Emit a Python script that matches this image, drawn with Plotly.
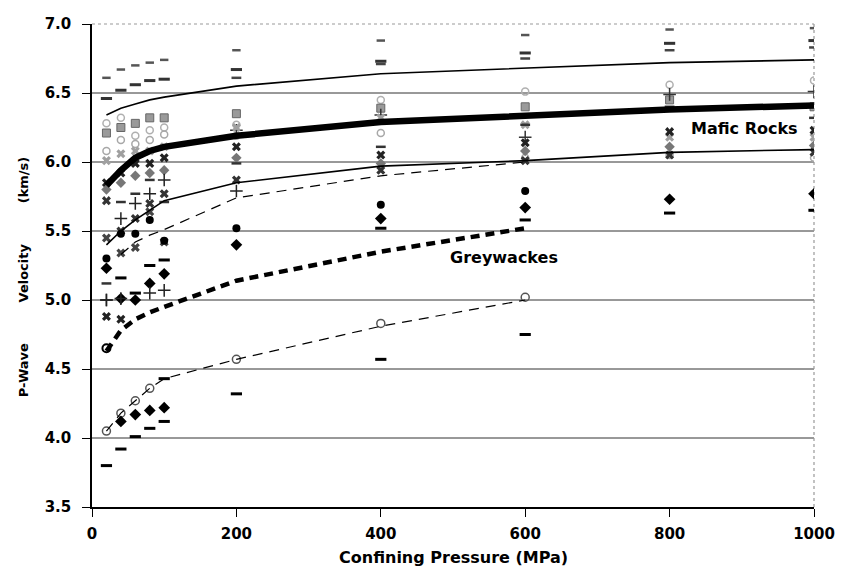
import plotly.graph_objects as go

# ---------------- data ----------------
pressure = [20, 40, 60, 80, 100, 200, 400, 600, 800, 1000]

# trend lines
mafic_upper = [6.34, 6.39, 6.42, 6.45, 6.47, 6.55, 6.64, 6.68, 6.72, 6.74]
mafic_mean = [5.83, 5.94, 6.03, 6.08, 6.11, 6.19, 6.29, 6.34, 6.38, 6.41]
mafic_lower = [5.40, 5.50, 5.58, 5.65, 5.72, 5.85, 5.97, 6.01, 6.07, 6.09]
mafic_dashed = [None, 5.33, 5.42, 5.47, 5.51, 5.74, 5.90, 6.00, None, None]
grey_mean = [4.63, 4.78, 4.86, 4.91, 4.95, 5.14, 5.35, 5.52, None, None]
grey_lower = [4.05, 4.18, 4.27, 4.36, 4.43, 4.57, 4.81, 5.00, None, None]

# mafic rock samples
m_dash_top = [6.61, 6.67, 6.70, 6.72, 6.74, 6.81, 6.88, 6.92, 6.96, 6.97]
m_dash_hi = [6.46, 6.52, 6.56, 6.59, 6.60, 6.67, 6.73, 6.79, 6.86, 6.88]
m_dash_mid = [None, None, None, None, None, 6.61, 6.71, 6.75, 6.81, 6.83]
m_star = [6.33, 6.40, 6.43, 6.46, 6.48, 6.56, 6.64, 6.68, 6.73, 6.75]
m_ocirc_hi = [6.28, 6.32, 6.19, 6.23, 6.25, 6.27, 6.45, 6.51, 6.56, 6.59]
m_square = [6.21, 6.25, 6.28, 6.32, 6.32, 6.35, 6.39, 6.40, 6.45, 6.40]
m_ocirc_lo = [6.08, 6.16, 6.13, 6.16, 6.20, 6.19, 6.21, 6.03, 6.05, 6.03]
m_plus_hi = [None, None, None, None, None, 6.23, 6.34, 6.18, 6.49, 6.51]
m_x_gray = [6.01, 6.06, 6.08, 6.08, 6.11, 6.25, 6.32, 6.27, 6.18, 6.18]
m_x_black = [5.85, 5.92, 5.99, 5.99, 6.03, 6.11, 6.05, 6.14, 6.22, 6.23]
m_diamond_gray = [5.80, 5.85, 5.90, 5.92, 5.94, 6.03, 5.99, 6.08, 6.11, 6.12]
m_x_low = [5.72, 5.50, 5.59, 5.70, 5.77, 5.87, 5.94, 6.01, 6.05, 6.07]
m_plus = [5.00, 5.59, 5.70, 5.77, 5.87, 5.79, None, None, None, None]
m_dash_lo = [5.12, 5.71, 5.77, 5.87, 5.71, 5.99, 6.11, 6.27, 6.40, 6.32]
m_x_lowest = [5.45, 5.34, 5.38, 5.64, 5.42, None, None, None, None, None]

# greywacke samples
g_circle = [5.30, 5.48, 5.48, 5.58, 5.43, 5.52, 5.69, 5.79, None, None]
g_diamond = [5.23, 5.01, 5.00, 5.12, 5.19, 5.40, 5.59, 5.67, 5.73, 5.77]
g_dash = [None, 5.16, 5.05, 5.25, 5.29, None, 5.52, 5.58, 5.63, 5.65]
g_plus = [5.00, 5.01, None, 5.05, 5.07, None, None, None, None, None]
g_x = [4.88, 4.86, None, None, None, None, None, None, None, None]
g_open = [4.65, None, None, None, None, None, None, None, None, None]
gl_open = [4.05, 4.18, 4.27, 4.36, None, 4.57, 4.83, 5.02, None, None]
gl_diamond = [None, 4.12, 4.17, 4.20, 4.22, None, None, None, None, None]
gl_dash = [3.80, 3.92, 4.01, 4.07, 4.12, 4.32, 4.57, 4.75, None, None]
gl_dash2 = [None, None, None, None, 4.43, None, None, None, None, None]

y_ticks = [3.5, 4.0, 4.5, 5.0, 5.5, 6.0, 6.5, 7.0]
y_tick_text = ["3.5", "4.0", "4.5", "5.0", "5.5", "6.0", "6.5", "7.0"]
x_ticks = [0, 200, 400, 600, 800, 1000]
grid_vals = [4.0, 4.5, 5.0, 5.5, 6.0, 6.5]

fig = go.Figure()


def add_line(y, width, dash="solid"):
    fig.add_trace(go.Scatter(x=pressure, y=y, mode="lines",
                             line=dict(color="black", width=width, dash=dash),
                             connectgaps=False, hoverinfo="skip"))


def add_markers(y, symbol, size, color, lw=0, lc=None):
    fig.add_trace(go.Scatter(
        x=pressure, y=y, mode="markers",
        marker=dict(symbol=symbol, size=size, color=color,
                    line=dict(width=lw, color=lc if lc else color))))


# markers (drawn first, lines on top)
add_markers(m_dash_top, "line-ew", 6, "#555", 2.5)
add_markers(m_dash_hi, "line-ew", 8, "#333", 3)
add_markers(m_dash_mid, "line-ew", 7, "#444", 2.5)
add_markers(m_ocirc_hi, "circle-open", 7, "#b0b0b0", 1.5)
add_markers(m_square, "square", 8, "#9a9a9a", 1, "#666")
add_markers(m_ocirc_lo, "circle-open", 7, "#a8a8a8", 1.5)
add_markers(m_plus_hi, "cross-thin", 9, "#333", 1.5)
add_markers(m_x_gray, "x", 8, "#a0a0a0")
add_markers(m_x_black, "x", 8, "#222")
add_markers(m_diamond_gray, "diamond", 8, "#777")
add_markers(m_x_low, "x", 8, "#333")
add_markers(m_plus, "cross-thin", 9, "#222", 1.5)
add_markers(m_dash_lo, "line-ew", 7, "#333", 2.5)
add_markers(m_x_lowest, "x", 8, "#444")

add_markers(g_circle, "circle", 8, "black")
add_markers(g_diamond, "diamond", 9, "black")
add_markers(g_dash, "line-ew", 8, "black", 3)
add_markers(g_plus, "cross-thin", 9, "#222", 1.5)
add_markers(g_x, "x", 8, "#222")
add_markers(g_open, "circle-open", 8, "black", 2)
add_markers(gl_open, "circle-open", 8, "#555", 1.5)
add_markers(gl_diamond, "diamond", 9, "black")
add_markers(gl_dash, "line-ew", 8, "black", 3)
add_markers(gl_dash2, "line-ew", 8, "black", 3)

# trend lines
add_line(mafic_upper, 1.6)
add_line(mafic_mean, 6.5)
add_line(mafic_lower, 1.6)
add_line(mafic_dashed, 1.2, "10px,7px")
add_line(grey_mean, 4.5, "9px,6px")
add_line(grey_lower, 1.2, "10px,7px")

# horizontal gridlines
shapes = []
for v in grid_vals:
    shapes.append(dict(type="line", xref="paper", yref="y", x0=0, x1=1, y0=v, y1=v,
                       line=dict(color="#333", width=1), layer="below"))
# dotted top and right borders
shapes.append(dict(type="line", xref="paper", yref="paper", x0=0, x1=1, y0=1, y1=1,
                   line=dict(color="#999", width=1.2, dash="dot"), layer="below"))
shapes.append(dict(type="line", xref="paper", yref="paper", x0=1, x1=1, y0=0, y1=1,
                   line=dict(color="#999", width=1.2, dash="dot"), layer="below"))

tick_font = dict(family="DejaVu Sans", size=15, color="black", weight="bold")
gap = "\u00a0" * 9

fig.update_layout(
    width=847, height=578,
    margin=dict(l=92, r=21, t=24, b=71),
    paper_bgcolor="white", plot_bgcolor="white",
    showlegend=False,
    shapes=shapes,
    xaxis=dict(range=[0, 1000], tickvals=x_ticks, ticks="outside", ticklen=8,
               tickcolor="black", tickwidth=1, showline=True, linecolor="black",
               linewidth=1.5, showgrid=False, zeroline=False, tickfont=tick_font,
               ticklabelstandoff=4, ticklabeloverflow="allow"),
    yaxis=dict(range=[3.5, 7.0], tickvals=y_ticks, ticktext=y_tick_text,
               ticks="outside", ticklen=8, tickcolor="black", tickwidth=1,
               showline=True, linecolor="black", linewidth=1.5, showgrid=False,
               zeroline=False, tickfont=tick_font, ticklabelstandoff=8),
    annotations=[
        dict(text="Confining Pressure (MPa)", xref="paper", yref="paper", x=0.5, y=0,
             xanchor="center", yanchor="middle", yshift=-50, showarrow=False,
             font=dict(family="DejaVu Sans", size=16, color="black", weight="bold")),
        dict(text="P-Wave" + gap + "Velocity" + gap + "(km/s)",
             xref="paper", yref="y", x=0, y=5.165, xanchor="center", yanchor="middle",
             xshift=-69, textangle=-90, showarrow=False,
             font=dict(family="DejaVu Sans", size=13, color="black", weight="bold")),
        dict(text="Mafic Rocks", xref="x", yref="y", x=904, y=6.245, showarrow=False,
             xanchor="center", yanchor="middle",
             font=dict(family="DejaVu Sans", size=16, color="black", weight="bold")),
        dict(text="Greywackes", xref="x", yref="y", x=570, y=5.31, showarrow=False,
             xanchor="center", yanchor="middle",
             font=dict(family="DejaVu Sans", size=16, color="black", weight="bold")),
    ],
)

fig.write_html("out.html")
